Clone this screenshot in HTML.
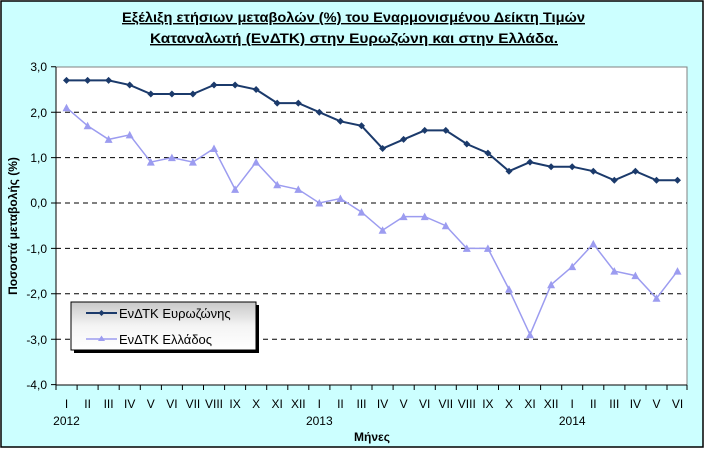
<!DOCTYPE html><html><head><meta charset="utf-8"><style>body{margin:0;width:705px;height:449px;overflow:hidden;background:#fff}</style></head><body>
<svg width="705" height="449" xmlns="http://www.w3.org/2000/svg" font-family="Liberation Sans, DejaVu Sans, sans-serif">
<defs>
<marker id="d" viewBox="-4 -4 8 8" refX="0" refY="0" markerWidth="8" markerHeight="8" markerUnits="userSpaceOnUse"><path d="M0-3.5L3.5 0 0 3.5-3.5 0Z" fill="#1b3a6b"/></marker>
<marker id="t" viewBox="-5 -5 10 10" refX="0" refY="0" markerWidth="10" markerHeight="10" markerUnits="userSpaceOnUse"><path d="M0-4L4 3.5H-4Z" fill="#9c9cf0"/></marker>
<linearGradient id="lg" x1="0" y1="0" x2="0" y2="1"><stop offset="0" stop-color="#c8c8c8"/><stop offset="0.5" stop-color="#f4f4f4"/><stop offset="1" stop-color="#ffffff"/></linearGradient>
</defs>
<rect x="1" y="1" width="702" height="446" fill="#ccffff" stroke="#000" stroke-width="1.5"/>
<text x="122" y="22" font-size="14" font-weight="bold" text-decoration="underline" textLength="463" lengthAdjust="spacingAndGlyphs">Εξέλιξη ετήσιων μεταβολών (%) του Εναρμονισμένου Δείκτη Τιμών</text>
<text x="150" y="43" font-size="14" font-weight="bold" text-decoration="underline" textLength="408" lengthAdjust="spacingAndGlyphs">Καταναλωτή (ΕνΔΤΚ) στην Ευρωζώνη  και στην Ελλάδα.</text>
<rect x="56" y="67" width="631" height="318" fill="#fff" stroke="#808080"/>
<g stroke="#000" stroke-dasharray="5,4" stroke-width="1">
<line x1="56" y1="112.2" x2="687" y2="112.2"/><line x1="56" y1="157.6" x2="687" y2="157.6"/><line x1="56" y1="203" x2="687" y2="203"/><line x1="56" y1="248.4" x2="687" y2="248.4"/><line x1="56" y1="293.8" x2="687" y2="293.8"/><line x1="56" y1="339.2" x2="687" y2="339.2"/>
</g>
<g stroke="#000" stroke-width="1">
<line x1="56" y1="67" x2="56" y2="385"/><line x1="56" y1="385" x2="687" y2="385"/>
<path d="M51 66.8H56M51 112.2H56M51 157.6H56M51 203H56M51 248.4H56M51 293.8H56M51 339.2H56M51 384.6H56"/>
<path d="M56 385v5M77.1 385v5M98.1 385v5M119.2 385v5M140.3 385v5M161.4 385v5M182.4 385v5M203.5 385v5M224.6 385v5M245.6 385v5M266.7 385v5M287.8 385v5M308.8 385v5M329.9 385v5M351 385v5M372 385v5M393.1 385v5M414.2 385v5M435.3 385v5M456.3 385v5M477.4 385v5M498.5 385v5M519.5 385v5M540.6 385v5M561.7 385v5M582.7 385v5M603.8 385v5M624.9 385v5M646 385v5M667 385v5M687 385v5"/>
</g>
<g font-size="12" text-anchor="end">
<text x="47" y="71">3,0</text><text x="47" y="117">2,0</text><text x="47" y="162">1,0</text><text x="47" y="207">0,0</text><text x="47" y="253">-1,0</text><text x="47" y="298">-2,0</text><text x="47" y="344">-3,0</text><text x="47" y="389">-4,0</text>
</g>
<g font-size="12" text-anchor="middle">
<text x="66.5" y="408">I</text><text x="87.6" y="408">II</text><text x="108.6" y="408">III</text><text x="129.7" y="408">IV</text><text x="150.8" y="408">V</text><text x="171.9" y="408">VI</text><text x="192.9" y="408">VII</text><text x="214" y="408">VIII</text><text x="235.1" y="408">IX</text><text x="256.1" y="408">X</text><text x="277.2" y="408">XI</text><text x="298.3" y="408">XII</text>
<text x="319.3" y="408">I</text><text x="340.4" y="408">II</text><text x="361.5" y="408">III</text><text x="382.6" y="408">IV</text><text x="403.6" y="408">V</text><text x="424.7" y="408">VI</text><text x="445.8" y="408">VII</text><text x="466.8" y="408">VIII</text><text x="487.9" y="408">IX</text><text x="509" y="408">X</text><text x="530" y="408">XI</text><text x="551.1" y="408">XII</text>
<text x="572.2" y="408">I</text><text x="593.3" y="408">II</text><text x="614.3" y="408">III</text><text x="635.4" y="408">IV</text><text x="656.5" y="408">V</text><text x="677.5" y="408">VI</text>
<text x="66.5" y="425">2012</text><text x="319.3" y="425">2013</text><text x="572.2" y="425">2014</text>
<text x="372" y="441" font-weight="bold">Μήνες</text>
</g>
<text transform="translate(17,226) rotate(-90)" font-size="12" font-weight="bold" text-anchor="middle">Ποσοστά μεταβολής (%)</text>
<polyline fill="none" stroke="#9c9cf0" stroke-width="1.5" marker-start="url(#t)" marker-mid="url(#t)" marker-end="url(#t)" points="66.5,107.7 87.6,125.8 108.6,139.4 129.7,134.9 150.8,162.1 171.9,157.6 192.9,162.1 214,148.5 235.1,189.4 256.1,162.1 277.2,184.8 298.3,189.4 319.3,203 340.4,198.5 361.5,212.1 382.6,230.2 403.6,216.6 424.7,216.6 445.8,225.7 466.8,248.4 487.9,248.4 509,289.3 530,334.7 551.1,284.7 572.2,266.6 593.3,243.9 614.3,271.1 635.4,275.6 656.5,298.3 677.5,271.1"/>
<polyline fill="none" stroke="#1b3a6b" stroke-width="2" marker-start="url(#d)" marker-mid="url(#d)" marker-end="url(#d)" points="66.5,80.4 87.6,80.4 108.6,80.4 129.7,85 150.8,94 171.9,94 192.9,94 214,85 235.1,85 256.1,89.5 277.2,103.1 298.3,103.1 319.3,112.2 340.4,121.3 361.5,125.8 382.6,148.5 403.6,139.4 424.7,130.4 445.8,130.4 466.8,144 487.9,153.1 509,171.2 530,162.1 551.1,166.7 572.2,166.7 593.3,171.2 614.3,180.3 635.4,171.2 656.5,180.3 677.5,180.3"/>
<rect x="74" y="305" width="185" height="48" fill="#000"/>
<rect x="71" y="302" width="185" height="48" fill="url(#lg)" stroke="#000" stroke-width="1"/>
<line x1="86" y1="313" x2="117" y2="313" stroke="#1b3a6b" stroke-width="2"/><path d="M101.5 310L104.5 313 101.5 316 98.5 313Z" fill="#1b3a6b"/>
<line x1="86" y1="339" x2="117" y2="339" stroke="#9c9cf0" stroke-width="1.5"/><path d="M101.5 335.5L105 341H98Z" fill="#9c9cf0"/>
<text x="119" y="318" font-size="13">ΕνΔΤΚ Ευρωζώνης</text>
<text x="119" y="344" font-size="13">ΕνΔΤΚ Ελλάδος</text>
</svg>
</body></html>
